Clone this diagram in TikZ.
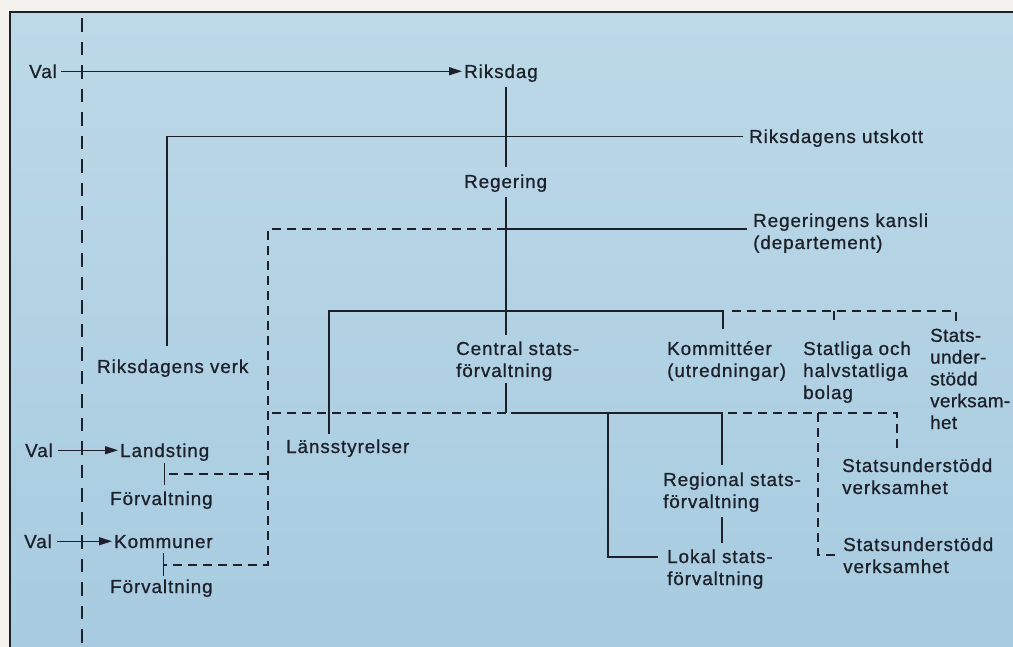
\documentclass[tikz,border=0pt]{standalone}
\usepackage{fontspec}
\setmainfont{Liberation Sans}[LetterSpace=5,FakeBold=0.8]
\usetikzlibrary{arrows.meta,calc}
\definecolor{paper}{HTML}{F3F2EC}
\definecolor{paneltop}{HTML}{BDD9E8}
\definecolor{panelbot}{HTML}{A7CBE0}
\definecolor{ink}{HTML}{1B2029}
\tikzset{
  lbl/.style={inner sep=0pt, anchor=base west, text=ink,
              font=\fontsize{18.8}{22}\selectfont},
  one/.style={lbl, text height=13.5pt, text depth=0pt},
  many/.style={lbl, align=left},
  wire/.style={draw=ink, line width=1.3pt},
  dsh/.style={wire, dash pattern=on 9pt off 6pt},
  lane/.style={wire, dash pattern=on 13.5pt off 10pt, dash phase=19.25pt},
  arr/.style={wire, -{Triangle[length=13pt,width=8pt]}},
}
\begin{document}
\begin{tikzpicture}[x=1pt,y=-1pt]
\useasboundingbox (0,0) rectangle (1013,647);
% paper and tinted panel
\fill[paper] (0,0) rectangle (1013,647);
\shade[top color=paneltop,bottom color=panelbot] (10,12) rectangle (1013,647);
\draw[ink,line width=1.4pt] (10,647) -- (10,12) -- (1013,12);

% labels (multi-line labels are placed by the baseline of their last line)
\node[one] (val1) at (29,78) {Val};
\node[one] (riksdag) at (464,78) {Riksdag};
\node[one] (utskott) at (749,143) {Riksdagens utskott};
\node[one] (regering) at (464,188) {Regering};
\node[many] (kansli) at (753,249) {Regeringens kansli\\(departement)};
\node[one] (verk) at (97,373) {Riksdagens verk};
\node[many] (central) at (456,377) {Central stats-\\förvaltning};
\node[many] (komm) at (667,377) {Kommittéer\\(utredningar)};
\node[many] (statliga) at (803,399) {Statliga och\\halvstatliga\\bolag};
\node[many, font=\fontsize{18.8}{21.8}\selectfont\addfontfeature{LetterSpace=2}]
  (stats) at (930,429) {Stats-\\under-\\stödd\\verksam-\\het};
\node[one] (lans) at (286,453) {Länsstyrelser};
\node[one] (val2) at (25,457) {Val};
\node[one] (landsting) at (120,457) {Landsting};
\node[one] (forv1) at (110,505) {Förvaltning};
\node[one] (val3) at (24,548) {Val};
\node[one] (kommuner) at (114,548) {Kommuner};
\node[one] (forv2) at (110,593) {Förvaltning};
\node[many] (regional) at (663,508) {Regional stats-\\förvaltning};
\node[many] (lokal) at (667,585) {Lokal stats-\\förvaltning};
\node[many] (su1) at (842,494) {Statsunderstödd\\verksamhet};
\node[many] (su2) at (843,573) {Statsunderstödd\\verksamhet};

% junctions
\coordinate (kJ) at (506,229);
\coordinate (kL) at (268,229);
\coordinate (kT) at (268,474);
\coordinate (kB) at (268,565);
\coordinate (uL) at (167,136.25);
\coordinate (cmL) at (329,311);
\coordinate (cmR) at (723,311);
\coordinate (dS) at (834,311);
\coordinate (dR) at (956,311);
\coordinate (cJ) at (506,413);
\coordinate (lJ) at (608,413);
\coordinate (lC) at (608,557);
\coordinate (rJ) at (722,413);
\coordinate (sM) at (818,413);
\coordinate (sMb) at (818,555);
\coordinate (sR) at (897,413);
\coordinate (laneT) at (82,14);
\coordinate (laneB) at (82,647);

% election boundary
\draw[lane] (laneT) -- (laneB);

% national level
\draw[arr, shorten <=4pt, shorten >=2pt] (val1.east) -- (riksdag.west);
\draw[wire, shorten <=9pt, shorten >=7pt] (riksdag.south -| kJ) -- (regering.north -| kJ);
\draw[wire, shorten <=9pt, shorten >=6.5pt] (regering.south -| kJ) -- (central.north -| kJ);
\draw[wire, shorten <=6pt, shorten >=13.5pt] (utskott.west) -- (uL) -- (uL |- verk.north);
\draw[wire, shorten >=6pt] (kJ) -- (kJ -| kansli.west);
\draw[dsh] (kJ) -- (kL) -- (kB) -- (kB -| kommuner.south);

% central administration and committees
\draw[wire, shorten <=5pt, shorten >=11.5pt] (cmL |- lans.north) -- (cmL) -- (cmR) -- (cmR |- komm.north);
\draw[dsh, shorten >=2pt] ($(cmR)+(9,0)$) -- (dR) -- (dR |- stats.north);
\draw[dsh, shorten >=16.5pt] (dS) -- (dS |- statliga.north);
\draw[wire, shorten <=2pt] (central.south -| kJ) -- (cJ);
\draw[dsh] (cJ) -- (cJ -| kL);

% regional and local administration
\draw[wire, shorten >=7.5pt] ($(cJ)+(5,0)$) -- (rJ) -- (rJ |- regional.north);
\draw[wire, shorten >=9pt] (lJ) -- (lC) -- (lC -| lokal.west);
\draw[wire, shorten <=5pt, shorten >=6.5pt] (regional.south -| rJ) -- (lokal.north -| rJ);
\draw[dsh, shorten >=10.5pt] ($(rJ)+(6,0)$) -- (sR) -- (sR |- su1.north);
\draw[dsh, shorten >=4pt] (sM) -- (sMb) -- (sMb -| su2.west);

% county councils and municipalities
\draw[arr, shorten <=5pt, shorten >=2pt] (val2.east) -- (landsting.west);
\draw[wire, shorten <=6pt, shorten >=6.7pt] (landsting.south) -- (landsting.south |- forv1.north);
\draw[dsh] (kT) -- (kT -| landsting.south);
\draw[arr, shorten <=5pt, shorten >=2pt] (val3.east) -- (kommuner.west);
\draw[wire, shorten <=5pt, shorten >=3pt] (kommuner.south) -- (kommuner.south |- forv2.north);
\end{tikzpicture}
\end{document}
